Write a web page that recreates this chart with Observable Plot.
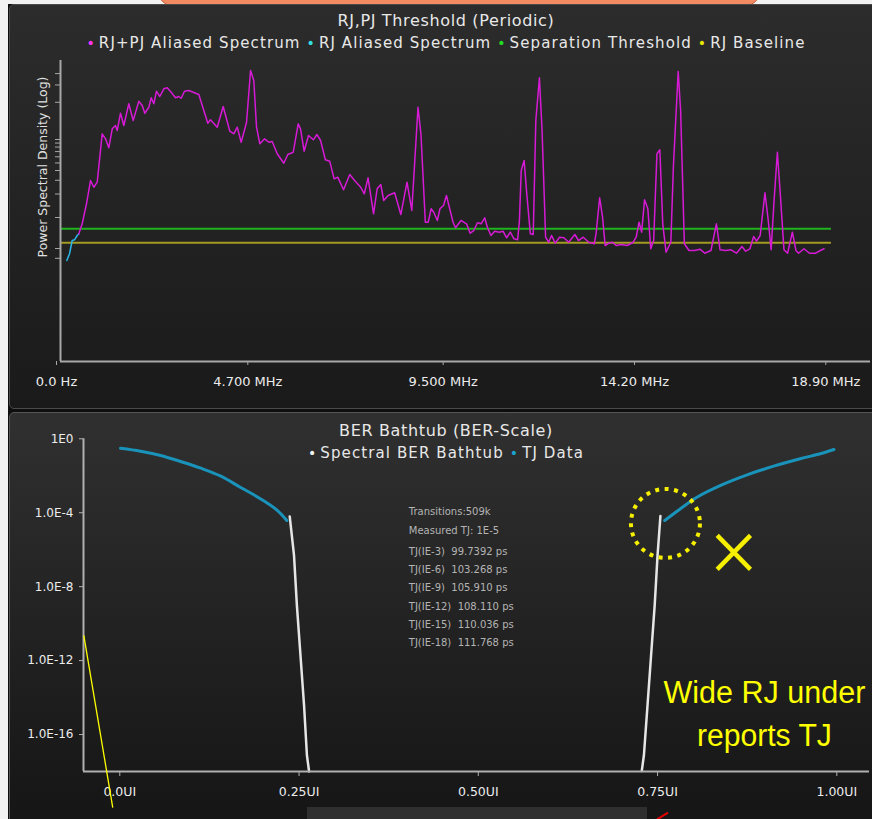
<!DOCTYPE html>
<html><head><meta charset="utf-8">
<script src="https://cdn.jsdelivr.net/npm/d3@7"></script>
<script src="https://cdn.jsdelivr.net/npm/@observablehq/plot@0.6"></script>
<style>
html,body{margin:0;padding:0;background:#f2f2f2;}
#page{position:relative;width:872px;height:819px;overflow:hidden;background:#f2f2f2;font-family:"DejaVu Sans",sans-serif;}
.abs{position:absolute;}
.orange{left:158px;top:-20px;width:600px;height:24px;background:#f28b62;border:1px solid #c9643f;border-radius:0 0 14px 14px;}
.back{left:8px;top:4px;right:0;bottom:0;background:#0e0e0e;}
.p1{left:9px;top:4px;width:870px;height:403px;background:linear-gradient(#2c2c2c,#1a1a1a);border:1px solid #4a4a4a;border-radius:5px 0 0 5px;}
.p2{left:9px;top:412px;width:870px;height:420px;background:linear-gradient(#303030,#161616 95%);border:1px solid #555;border-radius:5px 0 0 5px;}
.ttl,.leg{left:446px;transform:translateX(-50%);white-space:nowrap;color:#e8e8e8;line-height:20px;}
.ttl{font-size:16px;letter-spacing:0.65px;}
.leg{font-size:15px;letter-spacing:1.1px;}
.leg span.dot{font-size:14px;margin-right:3px;}
.leg span.item{margin:0 3px;}
.chart{position:absolute;left:0;}
.scroll{left:307px;top:807px;width:340px;height:12px;background:#2f2f2f;}
.red{left:656px;top:815px;width:13px;height:2px;background:#e00000;transform:rotate(-32deg);}
</style></head><body>
<div id="page">
  <div class="abs back"></div>
  <div class="abs orange"></div>
  <div class="abs p1"></div>
  <div class="abs p2"></div>
  <div class="abs scroll"></div>
  <div class="abs red"></div>
  <div id="chart1" class="chart" style="top:0px"></div>
  <div id="chart2" class="chart" style="top:412px"></div>
  <div class="abs ttl" id="title1" style="top:11px"></div>
  <div class="abs leg" id="leg1" style="top:33px"></div>
  <div class="abs ttl" id="title2" style="top:421px"></div>
  <div class="abs leg" id="leg2" style="top:443px"></div>
</div>
<script>
// ---------- Top chart data: RJ,PJ Threshold (Periodic) ----------
const topTitle = "RJ,PJ Threshold (Periodic)";
const topSeries = ["RJ+PJ Aliased Spectrum", "RJ Aliased Spectrum", "Separation Threshold", "RJ Baseline"];
const topLegendColors = ["#ff33ff", "#33e0e6", "#22dd22", "#e6e600"];
const topLineColors = ["#d61ad6", "#29b6e8", "#1fb31f", "#a39b22"];
const yAxisTitle = "Power Spectral Density (Log)";

// frequency in MHz, PSD in dB (10·log10, arbitrary reference)
const psdFreqMHz = [0.450,0.533,0.639,0.737,0.819,0.902,1.024,1.106,1.187,1.271,1.351,1.393,1.474,1.556,1.678,1.786,1.924,2.008,2.071,2.170,
2.228,2.293,2.358,2.440,2.538,2.622,2.720,2.825,2.907,2.965,3.047,3.152,3.260,3.398,3.521,3.619,3.685,3.850,3.997,4.160,
4.258,4.342,4.439,4.571,4.669,4.749,4.816,4.897,5.013,5.118,5.201,5.324,5.486,5.585,5.718,5.840,5.897,5.985,6.093,6.212,
6.300,6.390,6.507,6.614,6.722,6.811,6.954,7.106,7.241,7.376,7.464,7.556,7.691,7.779,7.869,7.941,8.049,8.209,8.361,8.513,
8.631,8.783,8.855,8.963,9.035,9.105,9.170,9.258,9.322,9.410,9.482,9.553,9.644,9.705,9.840,9.975,10.064,10.155,10.244,10.334,
10.422,10.487,10.575,10.666,10.781,10.872,10.961,11.051,11.140,11.231,11.275,11.319,11.391,11.455,11.543,11.614,11.678,11.766,11.831,11.918,
11.993,12.064,12.153,12.260,12.368,12.484,12.637,12.727,12.843,12.978,13.113,13.157,13.246,13.317,13.381,13.472,13.560,13.651,13.784,13.919,
14.071,14.143,14.214,14.278,14.349,14.430,14.501,14.573,14.653,14.725,14.796,14.877,14.995,15.057,15.175,15.235,15.327,15.442,15.577,15.712,
15.828,15.980,16.115,16.204,16.339,16.474,16.607,16.742,16.833,16.938,17.029,17.101,17.189,17.307,17.388,17.459,17.531,17.612,17.683,17.774,
17.863,17.980,18.069,18.133,18.265,18.401,18.553,18.668,18.760];
const psdDb = [17.91,19.19,21.76,24.74,23.88,24.53,30.73,30.09,28.94,31.37,31.79,31.15,33.37,31.79,34.58,32.44,34.91,34.36,33.37,34.14,
35.35,34.58,36.19,35.51,36.50,36.63,36.06,35.35,35.51,35.29,36.19,36.28,36.06,35.77,33.72,32.09,32.53,31.58,34.23,31.06,
30.73,31.58,29.65,32.22,38.85,37.56,31.58,29.45,30.09,29.65,29.74,28.17,26.96,28.08,28.37,32.01,31.37,28.50,30.51,29.96,
30.64,29.87,27.40,27.22,24.96,25.17,23.55,25.51,24.65,23.88,23.04,25.09,20.47,23.68,24.23,22.18,22.82,23.17,20.38,24.53,
20.90,34.14,30.73,19.40,19.40,21.12,20.68,19.62,21.12,21.54,22.82,21.32,19.40,18.68,19.62,19.19,17.99,18.33,19.32,19.19,
19.96,18.76,17.69,18.24,18.12,18.24,17.40,18.12,17.27,17.14,19.62,26.03,27.31,23.04,17.91,17.82,32.44,37.91,31.15,17.47,
16.83,17.69,16.71,17.47,17.40,16.83,17.82,17.05,17.47,16.83,16.63,17.91,22.53,20.04,16.41,16.71,16.83,16.41,16.54,16.41,
16.83,17.47,19.40,18.12,22.27,21.12,15.99,17.05,28.17,28.68,19.19,15.55,16.83,26.45,38.72,33.72,16.63,15.77,15.77,15.94,
15.42,15.77,19.19,15.86,15.77,15.86,15.42,16.28,15.68,15.99,17.56,16.96,17.69,23.17,19.62,15.86,22.18,28.37,23.04,15.86,
15.42,18.12,15.77,15.42,15.99,15.42,15.42,15.77,15.99];
const rjFreqMHz = [0.155,0.222,0.287,0.344,0.410,0.450];
const rjDb = [14.49,15.35,17.05,17.14,17.69,17.91];
const thresholdDb = 18.55;
const baselineDb = 16.76;
const levelSpanMHz = [0, 18.94];
const topXTicks = [0, 4.7, 9.5, 14.2, 18.9];
const topXTickLabels = ["0.0 Hz", "4.700 MHz", "9.500 MHz", "14.20 MHz", "18.90 MHz"];
const topYTicks = [30, 40, 100, 200, 300, 400, 500, 600, 700, 800, 900, 1000, 3000, 5000, 7000];
const topYDomain = [10 ** (12 / 78), 10 ** (313 / 78)];

// ---------- Bottom chart data: BER Bathtub (BER-Scale) ----------
const bottomTitle = "BER Bathtub (BER-Scale)";
const bottomSeries = ["Spectral BER Bathtub", "TJ Data"];
const bottomLegendColors = ["#f2f2f2", "#1aa3d0"];
const bottomLineColors = ["#e6e6e6", "#1a93bb"];
const tjLeftUI = [0.001,0.029,0.057,0.085,0.113,0.141,0.168,0.196,0.220,0.233];
const tjLeftLogBer = [-0.51,-0.67,-0.90,-1.23,-1.59,-2.02,-2.62,-3.24,-3.88,-4.42];
const tjRightUI = [0.760,0.782,0.805,0.838,0.875,0.912,0.949,0.977,0.996];
const tjRightLogBer = [-4.42,-3.78,-3.16,-2.52,-1.95,-1.48,-1.08,-0.81,-0.58];
const bathLeftUI = [0.237,0.243,0.247,0.252,0.257,0.261,0.264];
const bathLeftLogBer = [-4.20,-6.31,-9.01,-11.71,-14.42,-17.12,-18.0];
const bathRightUI = [0.754,0.750,0.746,0.741,0.736,0.731,0.728];
const bathRightLogBer = [-4.18,-6.31,-9.01,-11.71,-14.42,-17.12,-17.97];
const berXDomain = [-0.0506, 1.0456];
const berYDomain = [1e-18, 1];
const berXTicks = [0, 0.25, 0.5, 0.75, 1.0];
const berXTickLabels = ["0.0UI", "0.25UI", "0.50UI", "0.75UI", "1.00UI"];
const berYTicks = [1, 1e-4, 1e-8, 1e-12, 1e-16];
const berYTickLabels = ["1E0", "1.0E-4", "1.0E-8", "1.0E-12", "1.0E-16"];
const statsHeader = ["Transitions:509k", "Measured TJ: 1E-5"];
const tjLevels = ["IE-3", "IE-6", "IE-9", "IE-12", "IE-15", "IE-18"];
const tjValuesPs = ["99.7392", "103.268", "105.910", "108.110", "110.036", "111.768"];
// annotation anchors (UI, log10 BER)
const statsAnchor = {ui: 0.4031, headerLog: -4.316, tableLog: -8.424};
const pointerLine = {ui: [-0.0502, -0.0098], log: [-10.63, -19.95]};
const circleMark = {ui: 0.761, log: -4.58};
const crossMark = {ui: [0.8332, 0.8796], log: [-5.227, -7.065]};
const noteLines = ["Wide RJ under", "reports TJ"];
const noteAnchor = {ui: 0.899, log: [-13.74, -16.08]};
const noteWidths = [202, 135];
const annotColor = "#f6ef00";

// ---------- titles & legends ----------
function legendHTML(names, colors) {
  return names.map((n, i) => `<span class="item"><span class="dot" style="color:${colors[i]}">&#8226;</span>${n}</span>`).join("");
}
document.getElementById("title1").textContent = topTitle;
document.getElementById("leg1").innerHTML = legendHTML(topSeries, topLegendColors);
document.getElementById("title2").textContent = bottomTitle;
document.getElementById("leg2").innerHTML = legendHTML(bottomSeries, bottomLegendColors);

// ---------- top chart ----------
const spectrum = psdFreqMHz.map((f, i) => ({f, db: psdDb[i]}));
const rjSpec = rjFreqMHz.map((f, i) => ({f, db: rjDb[i]}));
const pw = d => 10 ** (d.db / 10);
const topLabelMap = new Map(topXTicks.map((t, i) => [t, topXTickLabels[i]]));

const chart1 = Plot.plot({
  width: 872, height: 400,
  marginLeft: 60, marginRight: 2, marginTop: 60, marginBottom: 39,
  style: {background: "transparent", color: "#e6e6e6", fontFamily: "DejaVu Sans", fontSize: "13px"},
  x: {domain: [0, 19.9], label: null},
  y: {type: "log", domain: topYDomain, label: null},
  marks: [
    Plot.ruleY([10 ** (thresholdDb / 10)], {x1: () => levelSpanMHz[0], x2: () => levelSpanMHz[1], stroke: topLineColors[2], strokeWidth: 2}),
    Plot.ruleY([10 ** (baselineDb / 10)], {x1: () => levelSpanMHz[0], x2: () => levelSpanMHz[1], stroke: topLineColors[3], strokeWidth: 2}),
    Plot.line(rjSpec, {x: "f", y: pw, stroke: topLineColors[1], strokeWidth: 1.5}),
    Plot.line(spectrum, {x: "f", y: pw, stroke: topLineColors[0], strokeWidth: 1.5}),
    Plot.ruleX([0], {stroke: "#a8a8a8", strokeWidth: 2}),
    Plot.ruleY([topYDomain[0]], {stroke: "#a8a8a8", strokeWidth: 2}),
    Plot.axisX({ticks: topXTicks, tickFormat: d => topLabelMap.get(d), tickSize: 4, tickPadding: 11, stroke: "#a8a8a8", fill: "#ececec", dx: -4, fontSize: 13}),
    Plot.axisY({ticks: topYTicks, tickFormat: () => "", tickSize: 5, stroke: "#a8a8a8"}),
    Plot.text([yAxisTitle], {frameAnchor: "left", textAnchor: "middle", rotate: -90, dx: -18, dy: -44, fill: "#e0e0e0", fontSize: 12.5})
  ]
});
document.getElementById("chart1").appendChild(chart1);

// ---------- bottom chart ----------
const mk = (xs, ys) => xs.map((u, i) => ({u, b: 10 ** ys[i]}));
const berLabelMap = new Map(berYTicks.map((t, i) => [t, berYTickLabels[i]]));
const uiLabelMap = new Map(berXTicks.map((t, i) => [t, berXTickLabels[i]]));
const nb = "\u00a0\u00a0";
const statsTable = tjLevels.map((l, i) => `TJ(${l})${nb}${tjValuesPs[i]} ps`).join("\n");
const p = v => 10 ** v;

const chart2 = Plot.plot({
  width: 872, height: 407,
  marginLeft: 83, marginRight: 3, marginTop: 26.3, marginBottom: 48,
  style: {background: "transparent", color: "#e6e6e6", fontFamily: "DejaVu Sans", fontSize: "12.5px"},
  x: {domain: berXDomain, label: null},
  y: {type: "log", domain: berYDomain, label: null},
  marks: [
    Plot.line(mk(tjLeftUI, tjLeftLogBer), {x: "u", y: "b", stroke: bottomLineColors[1], strokeWidth: 3, curve: "catmull-rom"}),
    Plot.line(mk(tjRightUI, tjRightLogBer), {x: "u", y: "b", stroke: bottomLineColors[1], strokeWidth: 3, curve: "catmull-rom"}),
    Plot.line(mk(bathLeftUI, bathLeftLogBer), {x: "u", y: "b", stroke: bottomLineColors[0], strokeWidth: 2.5}),
    Plot.line(mk(bathRightUI, bathRightLogBer), {x: "u", y: "b", stroke: bottomLineColors[0], strokeWidth: 2.5}),
    Plot.ruleX([berXDomain[0]], {stroke: "#b0b0b0", strokeWidth: 2}),
    Plot.ruleY([berYDomain[0]], {stroke: "#b0b0b0", strokeWidth: 2}),
    Plot.axisX({ticks: berXTicks, tickFormat: d => uiLabelMap.get(d), tickSize: 5, tickPadding: 11, stroke: "#b0b0b0", fill: "#ececec", fontSize: 12.5}),
    Plot.axisY({ticks: berYTicks, tickFormat: d => berLabelMap.get(d), tickSize: 4, tickPadding: 6, stroke: "#b0b0b0", fill: "#ececec", fontSize: 12}),
    Plot.text([statsHeader.join("\n")], {x: () => statsAnchor.ui, y: () => p(statsAnchor.headerLog), textAnchor: "start", lineAnchor: "middle", lineHeight: 1.83, fontSize: 10, fill: "#b4b4b4"}),
    Plot.text([statsTable], {x: () => statsAnchor.ui, y: () => p(statsAnchor.tableLog), textAnchor: "start", lineAnchor: "middle", lineHeight: 1.83, fontSize: 10, fill: "#b4b4b4"}),
    Plot.link([pointerLine], {x1: d => d.ui[0], x2: d => d.ui[1], y1: d => p(d.log[0]), y2: d => p(d.log[1]), stroke: "#ffff00", strokeWidth: 1.3}),
    Plot.dot([circleMark], {x: "ui", y: d => p(d.log), r: 34.5, fill: "none", stroke: annotColor, strokeWidth: 4, strokeDasharray: "4 5.5"}),
    Plot.link([0, 1], {x1: () => crossMark.ui[0], x2: () => crossMark.ui[1], y1: i => p(crossMark.log[i]), y2: i => p(crossMark.log[1 - i]), stroke: annotColor, strokeWidth: 4.5}),
    Plot.text(noteLines, {x: () => noteAnchor.ui, y: (d, i) => p(noteAnchor.log[i]), fill: "#ffff00", fontSize: 31, fontFamily: "Liberation Sans, Arial, sans-serif", lineAnchor: "middle"})
  ]
});
document.getElementById("chart2").appendChild(chart2);
d3.select(chart2).selectAll("text").each(function () {
  const k = noteLines.indexOf(this.textContent);
  if (k >= 0) { this.setAttribute("textLength", noteWidths[k]); this.setAttribute("lengthAdjust", "spacingAndGlyphs"); }
});
</script>
</body></html>
